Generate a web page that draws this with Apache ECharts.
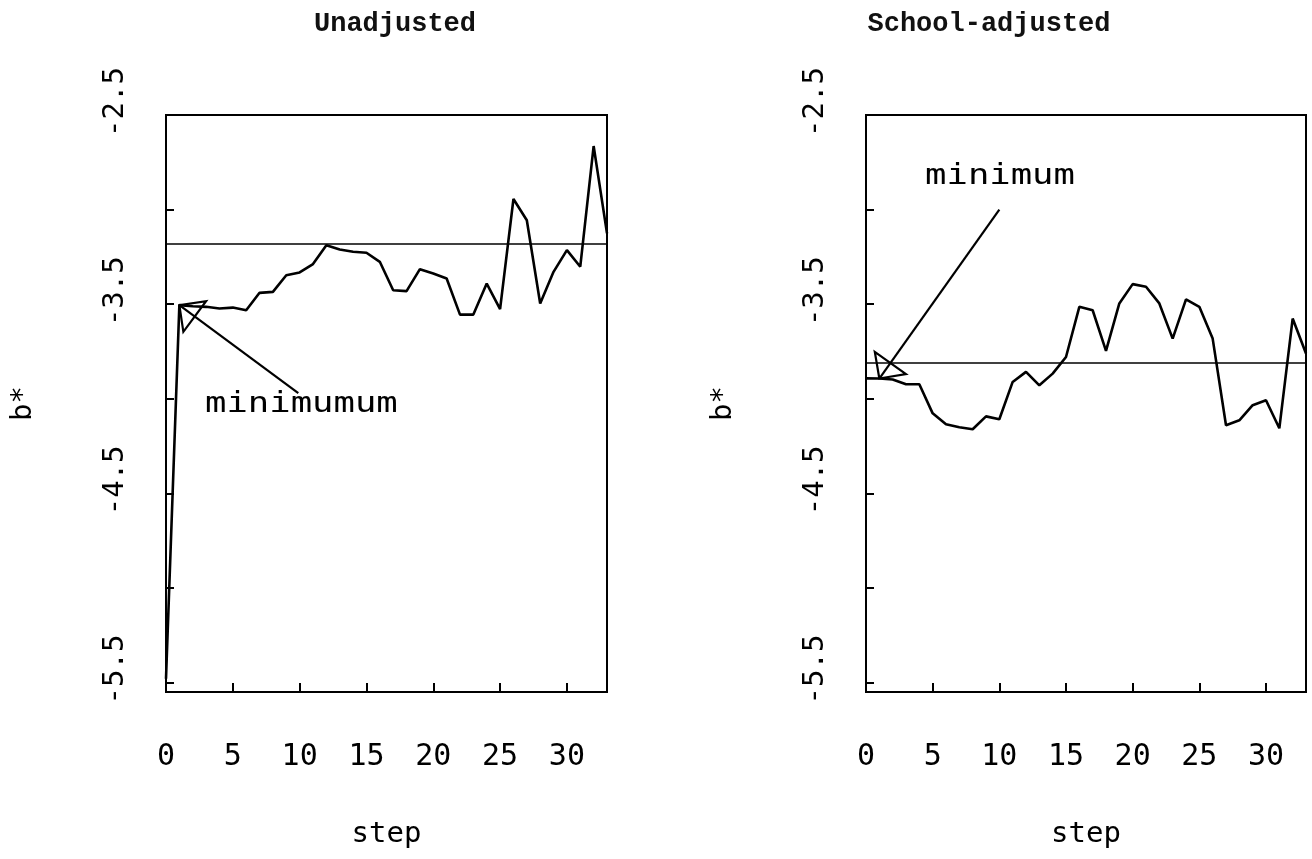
<!DOCTYPE html>
<html>
<head>
<meta charset="utf-8">
<title>b* by step</title>
<script src="https://cdn.jsdelivr.net/npm/echarts@6/dist/echarts.min.js"></script>
<style>
    html, body { margin: 0; padding: 0; background: #fff; }
    #chart { width: 1312px; height: 859px; }
</style>
</head>
<body>
<div id="chart"></div>
<script>
// data
const steps = [0, 1, 2, 3, 4, 5, 6, 7, 8, 9, 10, 11, 12, 13, 14, 15, 16,
    17, 18, 19, 20, 21, 22, 23, 24, 25, 26, 27, 28, 29, 30, 31, 32, 33];
const unadjusted = [-5.48, -3.505, -3.511, -3.514, -3.523, -3.518, -3.532, -3.440, -3.435,
    -3.347, -3.332, -3.288, -3.188, -3.211, -3.223, -3.228, -3.276, -3.426, -3.431,
    -3.315, -3.338, -3.364, -3.555, -3.555, -3.391, -3.526, -2.944, -3.056, -3.496,
    -3.329, -3.214, -3.302, -2.664, -3.126];
const schoolAdjusted = [-3.892, -3.893, -3.898, -3.923, -3.923, -4.077, -4.135, -4.151, -4.161,
    -4.093, -4.108, -3.911, -3.858, -3.929, -3.867, -3.779, -3.514, -3.532, -3.747,
    -3.496, -3.394, -3.408, -3.496, -3.682, -3.475, -3.514, -3.682, -4.140, -4.114,
    -4.034, -4.008, -4.156, -3.576, -3.761];
const refLines = [-3.184, -3.814];
const titles = ['Unadjusted', 'School-adjusted'];
const xTicks = [0, 5, 10, 15, 20, 25, 30];
const yTicks = [-5.5, -5, -4.5, -4, -3.5, -3, -2.5];
const yLabels = [-5.5, -4.5, -3.5, -2.5];
// annotations: [fromStep, fromB, toStep, toB] and text anchor [step, b]
const arrows = [[9.9, -3.97, 1, -3.505], [10, -3.0, 1, -3.893]];
const notes = ['minimumum', 'minimum'];
const notePos = [[2.92, -4.034], [4.43, -2.828]];

const plotFont = 'DejaVu Sans Mono';
const grids = [
    {left: 166, top: 115, width: 441, height: 577},
    {left: 866, top: 115, width: 440, height: 577}
];

function xAxisFor(i) {
    return {
        type: 'value', gridIndex: i, min: 0, max: 33,
        name: 'step', nameLocation: 'middle', nameGap: 128,
        nameTextStyle: {fontFamily: plotFont, fontSize: 29, color: '#000'},
        axisLine: {show: true, onZero: false, lineStyle: {color: '#000', width: 2}},
        axisTick: {show: true, inside: true, length: 9, customValues: xTicks, lineStyle: {color: '#000', width: 2}},
        axisLabel: {customValues: xTicks, fontFamily: plotFont, fontSize: 30, color: '#000', margin: 50},
        splitLine: {show: false}
    };
}

function yAxisFor(i) {
    return {
        type: 'value', gridIndex: i, min: -5.55, max: -2.5,
        name: 'b*', nameLocation: 'middle', nameGap: 128, nameRotate: 90,
        nameTextStyle: {fontFamily: plotFont, fontSize: 29, color: '#000'},
        axisLine: {show: true, onZero: false, lineStyle: {color: '#000', width: 2}},
        axisTick: {show: true, inside: true, length: 8, customValues: yTicks, lineStyle: {color: '#000', width: 2}},
        axisLabel: {
            customValues: yLabels, rotate: 90, margin: 36,
            fontFamily: plotFont, fontSize: 29, color: '#000',
            padding: [0, 0, 0, 26],
            formatter: v => Number(v).toFixed(1)
        },
        splitLine: {show: false}
    };
}

function lineSeries(i, vals) {
    return {
        type: 'line', xAxisIndex: i, yAxisIndex: i,
        data: steps.map((s, k) => [s, vals[k]]),
        showSymbol: false, symbol: 'none',
        lineStyle: {color: '#000', width: 2.6},
        markLine: {
            silent: true, symbol: 'none', label: {show: false},
            lineStyle: {color: '#000', width: 1.6, type: 'solid'},
            data: [{yAxis: refLines[i]}]
        }
    };
}

function noteSeries(i) {
    return {
        type: 'custom', xAxisIndex: i, yAxisIndex: i,
        data: [arrows[i]],
        encode: {x: [0, 2], y: [1, 3]},
        silent: true,
        renderItem: function (params, api) {
            const p0 = api.coord([api.value(0), api.value(1)]);
            const p1 = api.coord([api.value(2), api.value(3)]);
            const dx = p0[0] - p1[0], dy = p0[1] - p1[1];
            const len = Math.sqrt(dx * dx + dy * dy);
            const ux = dx / len, uy = dy / len;
            const L = 27, c = Math.cos(Math.PI / 4), s = Math.sin(Math.PI / 4);
            const b1 = [p1[0] + L * (ux * c - uy * s), p1[1] + L * (ux * s + uy * c)];
            const b2 = [p1[0] + L * (ux * c + uy * s), p1[1] + L * (-ux * s + uy * c)];
            const t = api.coord(notePos[i]);
            return {
                type: 'group',
                children: [
                    {type: 'line', shape: {x1: p0[0], y1: p0[1], x2: p1[0], y2: p1[1]},
                        style: {stroke: '#000', lineWidth: 2.2}},
                    {type: 'polygon', shape: {points: [p1, b1, b2]},
                        style: {fill: 'none', stroke: '#000', lineWidth: 2.2}},
                    {type: 'text', x: t[0], y: t[1], scaleX: 1.27,
                        style: {text: notes[i], fontFamily: plotFont, fontSize: 28, fill: '#000',
                            align: 'left', verticalAlign: 'middle'}}
                ]
            };
        }
    };
}

const chart = echarts.init(document.getElementById('chart'), null, {renderer: 'canvas'});
chart.setOption({
    animation: false,
    backgroundColor: '#fff',
    title: [
        {text: titles[0], left: 390, top: 6, textAlign: 'center',
            textStyle: {fontFamily: 'Liberation Mono', fontSize: 27, fontWeight: 'bold', color: '#111'}},
        {text: titles[1], left: 984, top: 6, textAlign: 'center',
            textStyle: {fontFamily: 'Liberation Mono', fontSize: 27, fontWeight: 'bold', color: '#111'}}
    ],
    grid: grids.map(g => Object.assign({show: true, borderColor: '#000', borderWidth: 2, backgroundColor: 'transparent'}, g)),
    xAxis: [xAxisFor(0), xAxisFor(1)],
    yAxis: [yAxisFor(0), yAxisFor(1)],
    series: [
        lineSeries(0, unadjusted),
        lineSeries(1, schoolAdjusted),
        noteSeries(0),
        noteSeries(1)
    ]
});
</script>
</body>
</html>
